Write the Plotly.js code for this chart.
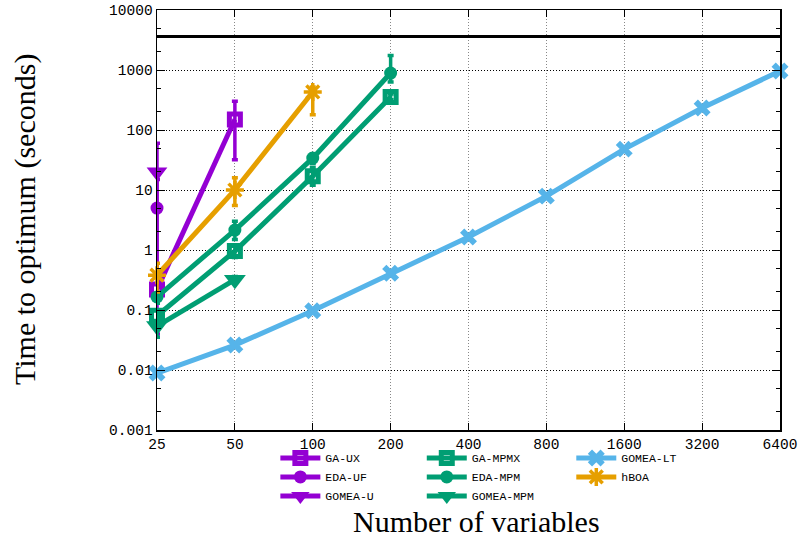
<!DOCTYPE html>
<html>
<head>
<meta charset="utf-8">
<script src="https://cdn.plot.ly/plotly-3.0.1.min.js"></script>
<style>html,body{margin:0;padding:0;background:#fff;}#chart{width:803px;height:540px;}</style>
</head>
<body>
<div id="chart"></div>
<script>
// ---- data ----
const xTicks = [25, 50, 100, 200, 400, 800, 1600, 3200, 6400];
const xTickText = ["25", "50", "100", "200", "400", "800", "1600", "3200", "6400"];
const yTicks = [0.001, 0.01, 0.1, 1, 10, 100, 1000, 10000];
const yTickText = ["0.001", "0.01", "0.1", "1", "10", "100", "1000", "10000"];
const timeLimit = 3600;

const gaUxX = [25, 50];
const gaUxY = [0.22, 150];
const gaUxHi = [0.33, 300];
const gaUxLo = [0.15, 32];

const edaUfX = [25];
const edaUfY = [5];
const edaUfHi = [15];
const edaUfLo = [0.3];

const gomeaUX = [25];
const gomeaUY = [20];
const gomeaUHi = [60];
const gomeaULo = [0.04];

const gaMpmxX = [25, 50, 100, 200];
const gaMpmxY = [0.08, 0.96, 17, 355];
const gaMpmxHi = [0.1, 1.2, 24, 400];
const gaMpmxLo = [0.06, 0.75, 12, 320];

const edaMpmX = [25, 50, 100, 200];
const edaMpmY = [0.165, 2.15, 34, 890];
const edaMpmHi = [0.2, 3.0, 40, 1750];
const edaMpmLo = [0.13, 1.5, 28, 630];

const gomeaMpmX = [25, 50];
const gomeaMpmY = [0.054, 0.32];
const gomeaMpmHi = [0.075, 0.36];
const gomeaMpmLo = [0.035, 0.28];

const gomeaLtX = [25, 50, 100, 200, 400, 800, 1600, 3200, 6400];
const gomeaLtY = [0.0089, 0.026, 0.097, 0.41, 1.65, 7.9, 48, 233, 960];

const hboaX = [25, 50, 100];
const hboaY = [0.38, 10, 430];
const hboaHi = [0.6, 16, 520];
const hboaLo = [0.2, 5.5, 180];

// ---- styles ----
const PURPLE = "#9400D3", GREEN = "#009E73", BLUE = "#56B4E9", ORANGE = "#E69F00";
const EPS = 1e-6;

function errs(y, hi, lo) {
  return {
    type: "data", symmetric: false,
    array: y.map((v, i) => hi[i] - v),
    arrayminus: y.map((v, i) => v - lo[i]),
    thickness: 3.5, width: 3
  };
}
function tr(name, x, y, color, symbol, size, legend, hi, lo, mlw) {
  const t = {
    type: "scatter", mode: "lines+markers", name: name, x: x, y: y,
    cliponaxis: false,
    line: {color: color, width: 5},
    marker: {color: color, symbol: symbol, size: size, line: {color: color, width: mlw || 0}},
    legend: legend
  };
  if (hi) { t.error_y = errs(y, hi, lo); t.error_y.color = color; }
  return t;
}

const traces = [
  tr("GA-UX", gaUxX, gaUxY, PURPLE, "square-open", 11, "legend", gaUxHi, gaUxLo, 5),
  tr("EDA-UF", edaUfX, edaUfY, PURPLE, "circle", 13, "legend", edaUfHi, edaUfLo),
  tr("GOMEA-U", gomeaUX, gomeaUY, PURPLE, "triangle-down", 18, "legend", gomeaUHi, gomeaULo),
  tr("GA-MPMX", gaMpmxX, gaMpmxY, GREEN, "square-open", 11, "legend2", gaMpmxHi, gaMpmxLo, 5),
  tr("EDA-MPM", edaMpmX, edaMpmY, GREEN, "circle", 13, "legend2", edaMpmHi, edaMpmLo),
  tr("GOMEA-MPM", gomeaMpmX, gomeaMpmY, GREEN, "triangle-down", 19, "legend2", gomeaMpmHi, gomeaMpmLo),
  tr("GOMEA-LT", gomeaLtX, gomeaLtY, BLUE, "x", 15, "legend3"),
  tr("hBOA", hboaX, hboaY, ORANGE, "asterisk-open", 15, "legend3", hboaHi, hboaLo, 3.5)
];

const tickFont = {family: "Liberation Mono, monospace", size: 14.5, color: "#000"};
const legFont = {family: "Liberation Mono, monospace", size: 11.5, color: "#000"};
const titleFont = {family: "Liberation Serif, serif", size: 30, color: "#000"};

const legendBase = {y: -0.032, xanchor: "left", yanchor: "top", font: legFont, bgcolor: "rgba(0,0,0,0)", tracegroupgap: 0, itemwidth: 40};

const layout = {
  width: 803, height: 540,
  margin: {l: 157, r: 23, t: 10, b: 110},
  paper_bgcolor: "#fff", plot_bgcolor: "#fff",
  showlegend: true,
  xaxis: {
    type: "log", range: [Math.log10(25) - EPS, Math.log10(6400) + EPS],
    tickmode: "array", tickvals: xTicks, ticktext: xTickText,
    ticks: "inside", ticklen: 7, tickcolor: "#000", tickwidth: 1,
    showline: true, linecolor: "#000", linewidth: 1.5, mirror: "ticks",
    showgrid: true, gridcolor: "#888", griddash: "1px,2px", gridwidth: 1,
    zeroline: false, tickfont: tickFont, layer: "above traces"
  },
  yaxis: {
    type: "log", range: [-3, 4],
    tickmode: "array", tickvals: yTicks, ticktext: yTickText,
    ticks: "inside", ticklen: 8, tickcolor: "#000", tickwidth: 1,
    showline: true, linecolor: "#000", linewidth: 1.5, mirror: "ticks",
    showgrid: true, gridcolor: "#000", griddash: "1px,2px", gridwidth: 1,
    zeroline: false, tickfont: tickFont, layer: "above traces",
    minor: {ticks: "inside", ticklen: 4, tickcolor: "#000", dtick: "D2", showgrid: false}
  },
  legend: Object.assign({x: 0.19}, legendBase),
  legend2: Object.assign({x: 0.425}, legendBase),
  legend3: Object.assign({x: 0.665}, legendBase),
  shapes: [{type: "line", xref: "paper", x0: 0, x1: 1, yref: "y", y0: timeLimit, y1: timeLimit, line: {color: "#000", width: 3}}],
  annotations: [
    {text: "Time to optimum (seconds)", xref: "paper", yref: "paper", x: 0, y: 0.5, xshift: -132, textangle: -90, showarrow: false, xanchor: "center", yanchor: "middle", font: titleFont},
    {text: "Number of variables", xref: "paper", yref: "paper", x: 0.5, y: 0, xshift: 8, yshift: -110, showarrow: false, xanchor: "center", yanchor: "bottom", font: titleFont}
  ]
};

Plotly.newPlot("chart", traces, layout, {displayModeBar: false, staticPlot: true});
</script>
</body>
</html>
